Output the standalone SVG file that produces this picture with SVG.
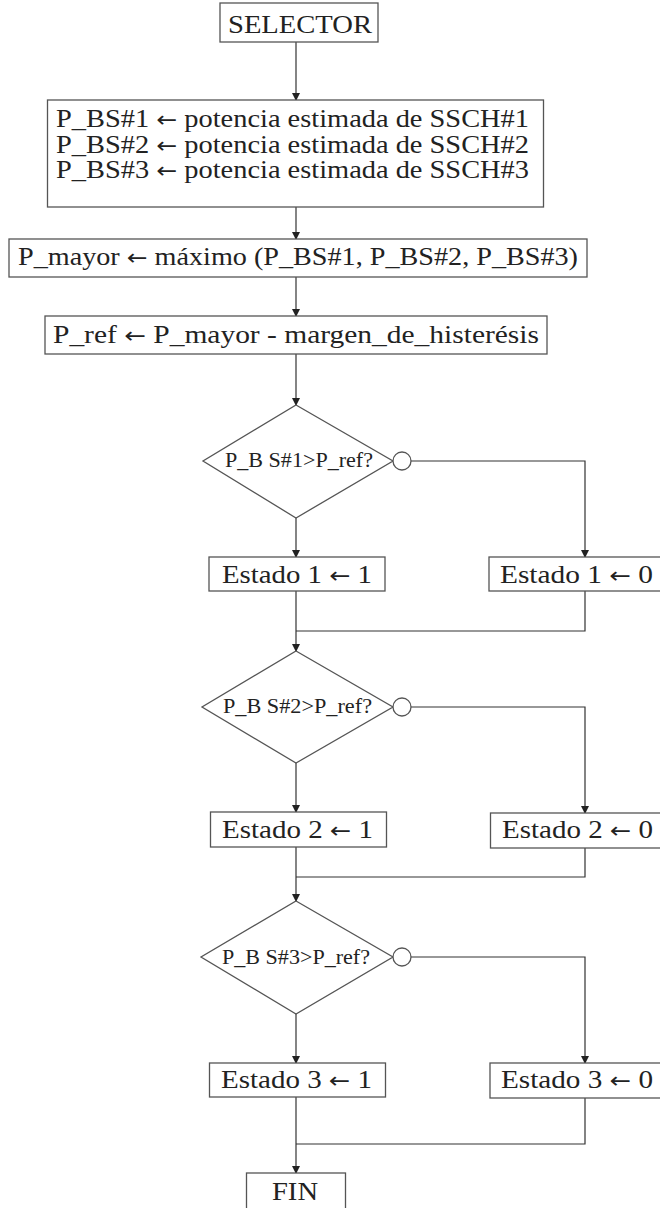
<svg xmlns="http://www.w3.org/2000/svg" width="660" height="1208" viewBox="0 0 660 1208">
<style>
.box{fill:#fff;stroke:#555;stroke-width:1.3}
.t{font-family:"Liberation Serif","DejaVu Serif",serif;font-size:25px;fill:#222}
.s{font-family:"Liberation Serif","DejaVu Serif",serif;font-size:20px;fill:#222}
.a{font-family:"DejaVu Sans","Liberation Sans",sans-serif;font-size:22px}
.c{fill:none;stroke:#333;stroke-width:1.2}
</style>
<defs>
<marker id="ah" markerWidth="8" markerHeight="10" refX="7" refY="5" orient="auto" markerUnits="userSpaceOnUse" viewBox="0 0 8 10">
<path d="M0,1 L8,5 L0,9 Z" fill="#222"/>
</marker>
</defs>
<rect width="660" height="1208" fill="#fff"/>
<g id="connectors">
<line class="c" x1="296" y1="42" x2="296" y2="100" marker-end="url(#ah)"/>
<line class="c" x1="296" y1="207" x2="296" y2="239" marker-end="url(#ah)"/>
<line class="c" x1="296" y1="277" x2="296" y2="316" marker-end="url(#ah)"/>
<line class="c" x1="296" y1="354" x2="296" y2="405" marker-end="url(#ah)"/>
<line class="c" x1="296" y1="518" x2="296" y2="557" marker-end="url(#ah)"/>
<polyline class="c" points="411,461 585,461 585,557" marker-end="url(#ah)"/>
<line class="c" x1="296" y1="591" x2="296" y2="651" marker-end="url(#ah)"/>
<polyline class="c" points="585,591 585,631 296,631"/>
<line class="c" x1="296" y1="763" x2="296" y2="812" marker-end="url(#ah)"/>
<polyline class="c" points="411,707 585,707 585,813" marker-end="url(#ah)"/>
<line class="c" x1="296" y1="847" x2="296" y2="901" marker-end="url(#ah)"/>
<polyline class="c" points="585,848 585,877 296,877"/>
<line class="c" x1="296" y1="1014" x2="296" y2="1063" marker-end="url(#ah)"/>
<polyline class="c" points="411,957 585,957 585,1063" marker-end="url(#ah)"/>
<line class="c" x1="296" y1="1097" x2="296" y2="1173" marker-end="url(#ah)"/>
<polyline class="c" points="585,1098 585,1144 296,1144"/>
</g>
<g id="selector">
<rect class="box" x="220" y="3" width="158" height="39"/>
<text class="t" x="228" y="33" textLength="144" lengthAdjust="spacingAndGlyphs">SELECTOR</text>
</g>
<g id="potencias">
<rect class="box" x="47.5" y="100" width="496" height="107"/>
<text class="t" x="56" y="127" textLength="473" lengthAdjust="spacingAndGlyphs">P_BS#1 <tspan class="a">←</tspan> potencia estimada de SSCH#1</text>
<text class="t" x="56" y="152.5" textLength="473" lengthAdjust="spacingAndGlyphs">P_BS#2 <tspan class="a">←</tspan> potencia estimada de SSCH#2</text>
<text class="t" x="56" y="178" textLength="473" lengthAdjust="spacingAndGlyphs">P_BS#3 <tspan class="a">←</tspan> potencia estimada de SSCH#3</text>
</g>
<g id="pmayor">
<rect class="box" x="9" y="239" width="578" height="38"/>
<text class="t" x="18" y="265" textLength="560" lengthAdjust="spacingAndGlyphs">P_mayor <tspan class="a">←</tspan> máximo (P_BS#1, P_BS#2, P_BS#3)</text>
</g>
<g id="pref">
<rect class="box" x="45" y="316" width="502" height="38"/>
<text class="t" x="53" y="343" textLength="486" lengthAdjust="spacingAndGlyphs">P_ref <tspan class="a">←</tspan> P_mayor - margen_de_histerésis</text>
</g>
<g id="decision1">
<polygon class="box" points="296,405 393,461 296,518 203,461"/>
<text class="s" x="225" y="467" textLength="148" lengthAdjust="spacingAndGlyphs">P_B S#1&gt;P_ref?</text>
<circle class="box" cx="402" cy="461" r="9"/>
</g>
<g id="estado1_1">
<rect class="box" x="209" y="557" width="176" height="34"/>
<text class="t" x="222" y="583" textLength="150" lengthAdjust="spacingAndGlyphs">Estado 1 <tspan class="a">←</tspan> 1</text>
</g>
<g id="estado1_0">
<rect class="box" x="489" y="557" width="175" height="34"/>
<text class="t" x="500" y="583" textLength="153" lengthAdjust="spacingAndGlyphs">Estado 1 <tspan class="a">←</tspan> 0</text>
</g>
<g id="decision2">
<polygon class="box" points="296,651 393,707 296,763 202,707"/>
<text class="s" x="223" y="713" textLength="149" lengthAdjust="spacingAndGlyphs">P_B S#2&gt;P_ref?</text>
<circle class="box" cx="402" cy="707" r="9"/>
</g>
<g id="estado2_1">
<rect class="box" x="210.5" y="812" width="176" height="35"/>
<text class="t" x="222" y="838" textLength="151" lengthAdjust="spacingAndGlyphs">Estado 2 <tspan class="a">←</tspan> 1</text>
</g>
<g id="estado2_0">
<rect class="box" x="490.5" y="813" width="175" height="35"/>
<text class="t" x="502" y="838" textLength="151" lengthAdjust="spacingAndGlyphs">Estado 2 <tspan class="a">←</tspan> 0</text>
</g>
<g id="decision3">
<polygon class="box" points="296,901 393,957 296,1014 201,957"/>
<text class="s" x="222" y="964" textLength="148" lengthAdjust="spacingAndGlyphs">P_B S#3&gt;P_ref?</text>
<circle class="box" cx="402" cy="957" r="9"/>
</g>
<g id="estado3_1">
<rect class="box" x="209.5" y="1063" width="176" height="34"/>
<text class="t" x="221" y="1088" textLength="151" lengthAdjust="spacingAndGlyphs">Estado 3 <tspan class="a">←</tspan> 1</text>
</g>
<g id="estado3_0">
<rect class="box" x="490" y="1063" width="175" height="35"/>
<text class="t" x="501" y="1088" textLength="152" lengthAdjust="spacingAndGlyphs">Estado 3 <tspan class="a">←</tspan> 0</text>
</g>
<g id="fin">
<rect class="box" x="246.5" y="1173" width="99" height="40"/>
<text class="t" x="272" y="1200" textLength="46" lengthAdjust="spacingAndGlyphs">FIN</text>
</g>
</svg>
